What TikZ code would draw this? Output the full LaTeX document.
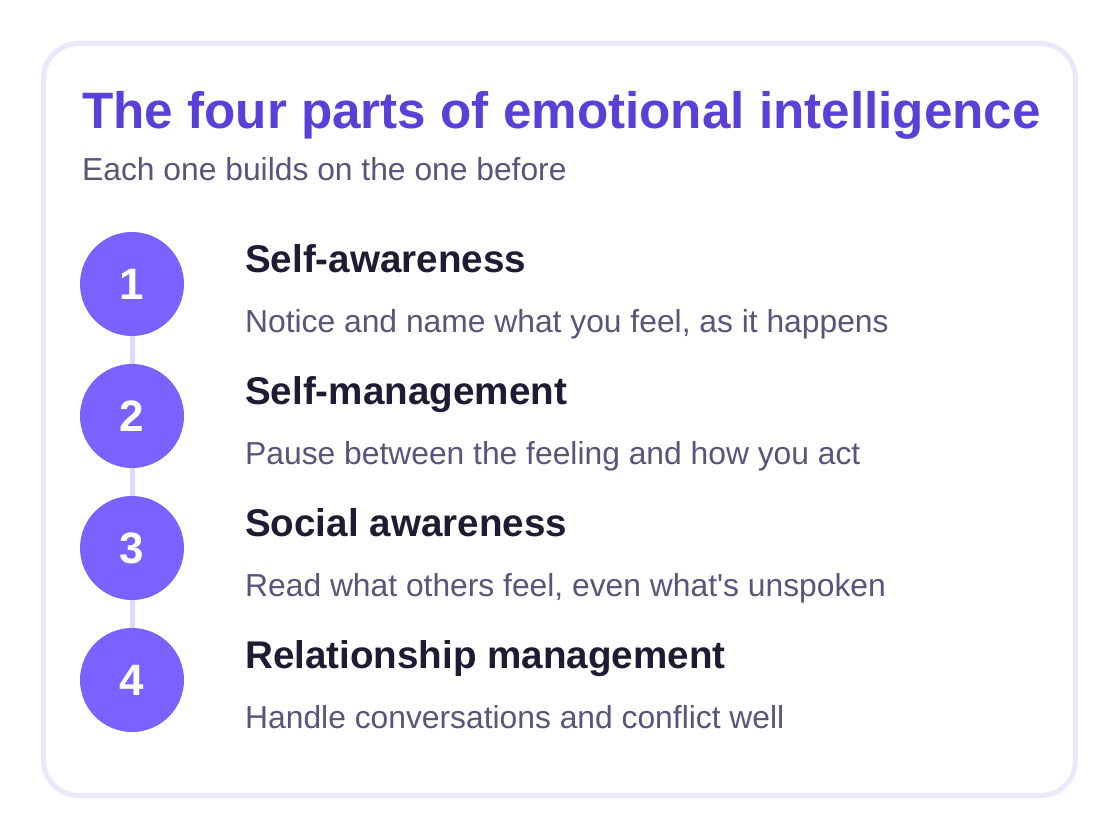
\documentclass[tikz,border=0pt]{standalone}
\usepackage{fontspec}
\setmainfont{Liberation Sans}
\usetikzlibrary{positioning}
\definecolor{cardline}{HTML}{EBE8FD}
\definecolor{titlecol}{HTML}{5A40D8}
\definecolor{stepfill}{HTML}{7B61FF}
\definecolor{linkcol}{HTML}{DEDAF7}
\definecolor{headcol}{HTML}{1E1B33}
\definecolor{desccol}{HTML}{5A547A}
\tikzset{
  card/.style={draw=cardline, line width=5pt, fill=white,
               rounded corners=35pt},
  stepnum/.style={circle, fill=stepfill, minimum size=104pt,
                  inner sep=0pt, text=white,
                  font=\fontsize{44}{44}\selectfont\bfseries},
  link/.style={draw=linkcol, line width=5pt},
  txt/.style={anchor=base west, inner sep=0pt},
  ttl/.style={txt, text=titlecol, font=\fontsize{51.2}{51.2}\selectfont\bfseries},
  subttl/.style={txt, text=desccol, font=\fontsize{31.8}{31.8}\selectfont},
  stephead/.style={txt, text=headcol, font=\fontsize{38.6}{38.6}\selectfont\bfseries},
  stepdesc/.style={txt, text=desccol, font=\fontsize{31.8}{31.8}\selectfont},
}

\begin{document}
\begin{tikzpicture}[x=1pt, y=-1pt]
  \useasboundingbox (0,0) rectangle (1120,840);

  \draw[card] (43.5,43.5) rectangle (1075.5,795.5);

  \node[ttl] (title) at (82,129) {The four parts of emotional intelligence};
  \node[subttl] (sub) at (82,181) {Each one builds on the one before};

  \foreach \i/\hd/\ds in {
      1/Self-awareness/{Notice and name what you feel, as it happens},
      2/Self-management/{Pause between the feeling and how you act},
      3/Social awareness/{Read what others feel, even what\textquotesingle s unspoken},
      4/Relationship management/{Handle conversations and conflict well}}
  {
    \node[stepnum] (c\i) at (132,{152+132*\i}) {\i};
    \node[stephead] (h\i) at (245,{140+132*\i}) {\hd};
    \node[stepdesc] (d\i) at (245,{200+132*\i}) {\ds};
  }

  \foreach \i/\j in {1/2, 2/3, 3/4}
    \draw[link] (c\i) -- (c\j);

\end{tikzpicture}
\end{document}
